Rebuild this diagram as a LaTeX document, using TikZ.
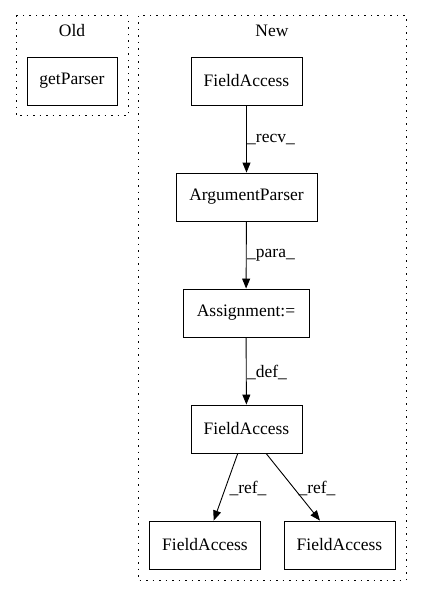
\documentclass[tikz,border=0pt]{standalone}
\usepackage{fontspec}
\setmainfont{Liberation Serif}
\usetikzlibrary{arrows.meta}
\begin{document}
\begin{tikzpicture}[x=1pt,y=-1pt,
  box/.style={draw, line width=0.9pt, minimum height=48pt, inner sep=0pt, font=\fontsize{17.5}{20}\selectfont},
  clus/.style={draw, line width=1pt, dash pattern=on 1.5pt off 5pt},
  edge/.style={-{Triangle[length=10pt,width=8pt]}, line width=0.9pt},
  lab/.style={font=\fontsize{17.5}{20}\selectfont, inner sep=0pt}]
\useasboundingbox (0,0) rectangle (423,596);
\draw[clus] (16,16) rectangle (128,116);
\draw[clus] (138,16) rectangle (406,580);
\node[lab] (old) at (72,31) {Old};
\node[lab] (new) at (272,31) {New};
\node[box, minimum width=90pt] (gp) at (72,81) {getParser};
\node[box, minimum width=111pt] (fa1) at (246.5,81) {FieldAccess};
\node[box, minimum width=141pt] (ap) at (246.5,197) {ArgumentParser};
\node[box, minimum width=126pt] (as) at (246,313) {Assignment:=};
\node[box, minimum width=111pt] (fa2) at (246.5,429) {FieldAccess};
\node[box, minimum width=111pt] (fa3) at (205,545) {FieldAccess};
\node[box, minimum width=111pt] (fa4) at (339.5,545) {FieldAccess};
\draw[edge] (fa1) -- (ap);
\draw[edge] (ap) -- (as);
\draw[edge] (as) -- (fa2);
\draw[edge] (fa2) -- (fa3);
\draw[edge] (fa2) -- (fa4);
\node[lab] (l1) at (271,140) {\_recv\_};
\node[lab] (l2) at (271,255) {\_para\_};
\node[lab] (l3) at (267,372) {\_def\_};
\node[lab] (l4) at (248,488) {\_ref\_};
\node[lab] (l5) at (317,488) {\_ref\_};
\end{tikzpicture}
\end{document}
